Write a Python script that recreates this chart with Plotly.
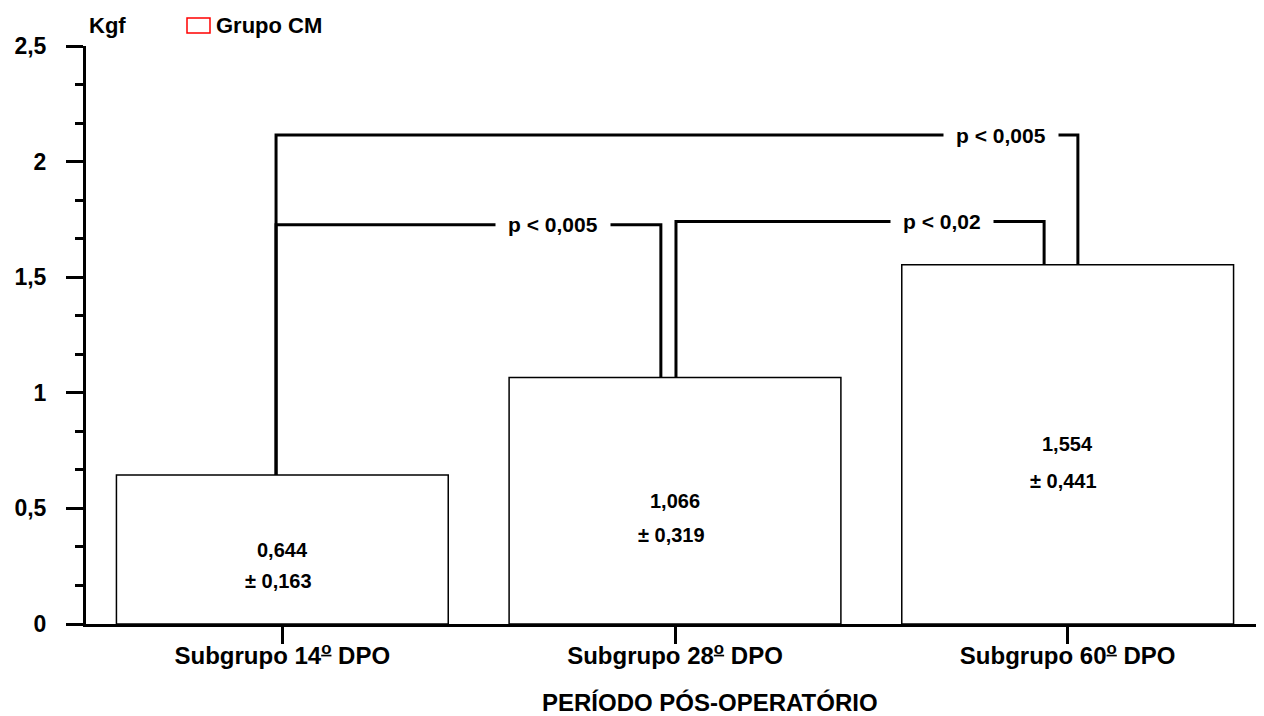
import plotly.graph_objects as go

# ---- data ----
categories = ["Subgrupo 14º DPO", "Subgrupo 28º DPO", "Subgrupo 60º DPO"]
means = [0.644, 1.066, 1.554]
sds = [0.163, 0.319, 0.441]
mean_labels = ["0,644", "1,066", "1,554"]
sd_labels = ["± 0,163", "± 0,319", "± 0,441"]
y_tickvals = [0, 0.5, 1, 1.5, 2, 2.5]
y_ticktext = ["0", "0,5", "1", "1,5", "2", "2,5"]

# comparisons: (left bar, right bar, bracket height, p label)
comp_left = [0, 0, 1]
comp_right = [2, 1, 2]
comp_height = [2.115, 1.727, 1.741]
comp_text = ["p < 0,005", "p < 0,005", "p < 0,02"]
# leg offsets from bar centre (category units), label position along bracket
comp_left_off = [-0.016, -0.016, 0.0025]
comp_right_off = [0.026, -0.036, -0.060]
comp_label_x = [1.829, 0.689, 1.679]

FONT = "Liberation Sans, Arial, sans-serif"
x = list(range(len(categories)))

def fmt_cat(c):
    # render the ordinal indicator as an underlined superscript "o"
    return "<b>" + c.replace("º", "<sup><u>o</u></sup>") + "</b>"

fig = go.Figure()
fig.add_trace(go.Bar(
    x=x, y=means, width=0.845,
    marker=dict(color="white", line=dict(color="black", width=1.5)),
    showlegend=False, hoverinfo="skip",
))

ann = []
for i in x:
    ann.append(dict(x=i, y=means[i] / 2, xref="x", yref="y", text="<b>%s</b>" % mean_labels[i],
                    showarrow=False, font=dict(family=FONT, size=20, color="black"),
                    yanchor="middle"))
    ann.append(dict(x=i - 0.01, y=means[i] / 2, xref="x", yref="y", text="<b>%s</b>" % sd_labels[i],
                    showarrow=False, font=dict(family=FONT, size=20, color="black"),
                    yanchor="middle", yshift=-31 - 3 * i))

shapes = []
for k in range(len(comp_text)):
    a, b = comp_left[k], comp_right[k]
    xa = a + comp_left_off[k]
    xb = b + comp_right_off[k]
    h = comp_height[k]
    shapes.append(dict(type="path", xref="x", yref="y",
                       path="M %f,%f L %f,%f L %f,%f L %f,%f" % (xa, means[a], xa, h, xb, h, xb, means[b]),
                       line=dict(color="black", width=3), layer="above"))
    ann.append(dict(x=comp_label_x[k], y=h, xref="x", yref="y", text="<b>%s</b>" % comp_text[k],
                    showarrow=False, font=dict(family=FONT, size=21, color="black"),
                    yanchor="middle", bgcolor="white", borderpad=12))

# free texts, positioned in screenshot pixels
free = []
free.append(dict(x=87, y=25, text="<b>Kgf</b>", xanchor="left", size=22))
free.append(dict(x=710, y=702, text="<b>PERÍODO PÓS-OPERATÓRIO</b>", xanchor="center", size=24))
free.append(dict(x=214, y=25, text="<b>Grupo CM</b>", xanchor="left", size=22))

OFF = 8  # page body margin
W, H = 1264 - OFF, 716 - OFF
ml, mr, mt, mb = 86 - OFF, 0, 46 - OFF, 92
pw, ph = W - ml - mr, H - mt - mb

def px2paper(px, py):
    return (px - OFF - ml) / pw, 1 - (py - OFF - mt) / ph

for f in free:
    fx, fy = px2paper(f["x"], f["y"])
    ann.append(dict(x=fx, y=fy, xref="paper", yref="paper", text=f["text"], showarrow=False,
                    xanchor=f["xanchor"], yanchor="middle",
                    font=dict(family=FONT, size=f["size"], color="black")))

bx0, by0 = px2paper(187, 33)
bx1, by1 = px2paper(210, 18)
shapes.append(dict(type="rect", xref="paper", yref="paper", x0=bx0, x1=bx1, y0=by0, y1=by1,
                   line=dict(color="red", width=1.5), fillcolor="white"))

fig.update_layout(
    width=W, height=H, margin=dict(l=ml, r=mr, t=mt, b=mb),
    paper_bgcolor="white", plot_bgcolor="white",
    annotations=ann, shapes=shapes, showlegend=False,
    font=dict(family=FONT, color="black"),
    xaxis=dict(range=[-0.5, 2.5], tickvals=x, ticktext=[fmt_cat(c) for c in categories],
               showgrid=False, zeroline=False, showline=True, linecolor="black", linewidth=3,
               ticks="outside", ticklen=17, tickwidth=3, tickcolor="black",
               ticklabelstandoff=-9,
               tickfont=dict(family=FONT, size=24, color="black")),
    yaxis=dict(range=[0, 2.5], tickvals=y_tickvals, ticktext=["<b>%s</b>" % t for t in y_ticktext],
               showgrid=False, zeroline=False, showline=True, linecolor="black", linewidth=3,
               ticks="outside", ticklen=17, tickwidth=3, tickcolor="black",
               ticklabelstandoff=15,
               minor=dict(tick0=0, dtick=0.5 / 3, ticks="outside", ticklen=8, tickwidth=3,
                          tickcolor="black", showgrid=False),
               tickfont=dict(family=FONT, size=23, color="black")),
)

fig.write_html("out.html")
